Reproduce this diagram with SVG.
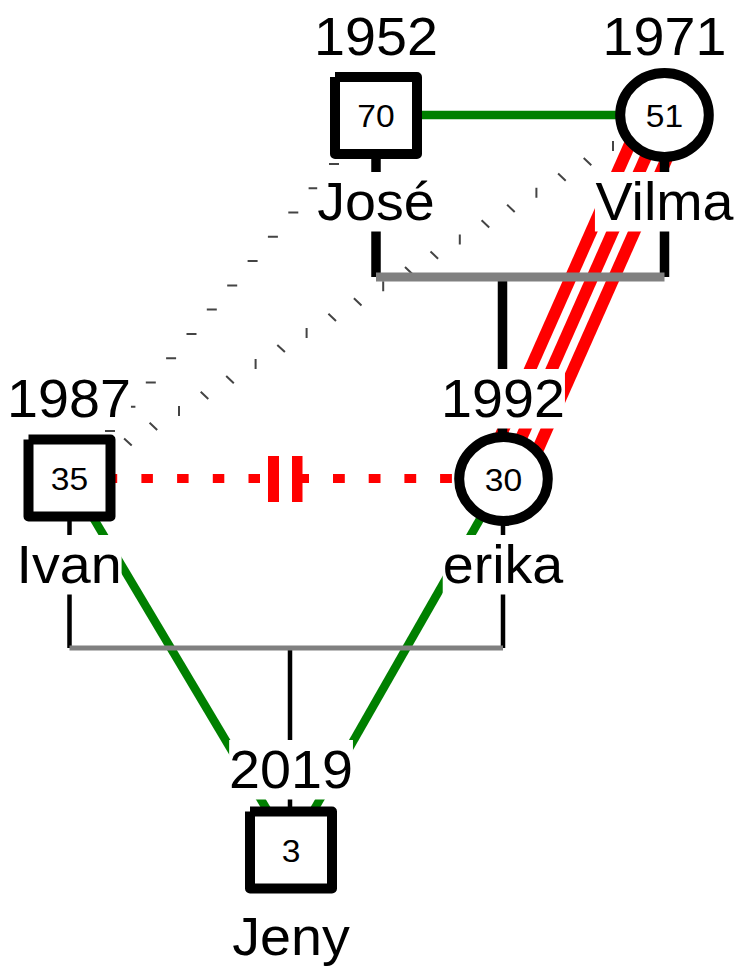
<svg xmlns="http://www.w3.org/2000/svg" width="738" height="967" viewBox="0 0 738 967">
<style>
.lbl{font-family:"Liberation Sans",Arial,sans-serif;font-size:53px;text-anchor:middle;fill:#000}
.num{font-family:"Liberation Sans",Arial,sans-serif;font-size:32px;text-anchor:middle;fill:#000}
.bg{fill:#fff}
.node{fill:#fff;stroke:#000;stroke-width:10;stroke-linejoin:round;stroke-linecap:butt}
.dots{fill:none;stroke:#444;stroke-width:2}
.red3{stroke:#f00;stroke-width:12}
.green{stroke:#008000;stroke-width:8.5}
.blk1{stroke:#000;stroke-width:9.5}
.blk2{stroke:#000;stroke-width:4.5}
.bar1{stroke:#808080;stroke-width:9}
.bar2{stroke:#808080;stroke-width:5}
.reddash{stroke:#f00;stroke-width:9;fill:none}
</style>
<rect width="738" height="967" fill="#fff"/>
<g id="connectors">
  <path class="dots" d="M329,164h10M308.6,188.3h10M288.3,212.5h10M267.9,236.8h10M247.6,261.1h10M227.2,285.4h10M206.8,309.6h10M186.5,333.9h10M166.1,358.2h10M145.8,382.4h10M125.4,406.7h10M105,431h10"/>
  <path class="dots" d="M613,141v10M536.4,187.7v10M459.8,234.5v10M383.2,281.2v10M306.6,328v10M255.6,359.1v10M179,405.9v10M583.7,158l7.6,7.2M558.1,173.6l7.6,7.2M507.1,204.7l7.6,7.2M481.6,220.3l7.6,7.2M430.5,251.5l7.6,7.2M405,267l7.6,7.2M353.9,298.2l7.6,7.2M328.4,313.8l7.6,7.2M277.3,344.9l7.6,7.2M226.2,376.1l7.6,7.2M200.7,391.7l7.6,7.2M149.6,422.8l7.6,7.2M124.1,438.4l7.6,7.2"/>
  <line class="red3" x1="646.4" y1="106.95" x2="485.4" y2="469.95"/>
  <line class="red3" x1="664.5" y1="115" x2="503.5" y2="478"/>
  <line class="red3" x1="682.6" y1="123.05" x2="521.6" y2="486.05"/>
  <line class="green" x1="376" y1="115" x2="664.5" y2="115"/>
  <line class="green" x1="69.5" y1="478" x2="291" y2="850"/>
  <line class="green" x1="503.5" y1="478" x2="291" y2="850"/>
  <line class="blk1" x1="376" y1="115" x2="376" y2="277"/>
  <line class="blk1" x1="664.5" y1="115" x2="664.5" y2="277"/>
  <line class="blk1" x1="502.5" y1="277" x2="502.5" y2="478"/>
  <line class="bar1" x1="376" y1="277" x2="664.5" y2="277"/>
  <line class="blk2" x1="69.5" y1="478" x2="69.5" y2="648"/>
  <line class="blk2" x1="503" y1="478" x2="503" y2="648"/>
  <line class="blk2" x1="290" y1="648" x2="290" y2="850"/>
  <line class="bar2" x1="69.5" y1="648" x2="503" y2="648"/>
  <line class="reddash" x1="70" y1="478.5" x2="268" y2="478.5" stroke-dasharray="11.5 24.2"/>
  <line class="reddash" x1="333" y1="478.5" x2="500" y2="478.5" stroke-dasharray="11.8 23.9"/>
  <rect x="268" y="456" width="11" height="46" fill="#f00"/>
  <rect x="292" y="456" width="10.5" height="46" fill="#f00"/>
  <rect x="302" y="474" width="7" height="9" fill="#f00"/>
</g>
<g id="node-jose">
  <path class="node" d="M335,77H417V154H335V77"/>
  <text class="num" transform="translate(376,126.5) scale(1.05 1)">70</text>
  <g transform="translate(376,55) scale(1.05 1)"><rect class="bg" x="-58.9" y="-48" width="117.9" height="59.5"/><text class="lbl">1952</text></g>
  <g transform="translate(376,220) scale(1.05 1)"><rect class="bg" x="-56" y="-48" width="111.9" height="59.5"/><text class="lbl">José</text></g>
</g>
<g id="node-vilma">
  <ellipse class="node" cx="664.5" cy="115" rx="44.3" ry="42"/>
  <text class="num" transform="translate(664.5,126.5) scale(1.05 1)">51</text>
  <g transform="translate(664.5,55) scale(1.05 1)"><rect class="bg" x="-58.9" y="-48" width="117.9" height="59.5"/><text class="lbl">1971</text></g>
  <g transform="translate(664.5,220) scale(1.05 1)"><rect class="bg" x="-66.25" y="-48" width="132.5" height="59.5"/><text class="lbl">Vilma</text></g>
</g>
<g id="node-ivan">
  <path class="node" d="M28.5,439.5H110.5V516.5H28.5V439.5"/>
  <text class="num" transform="translate(69.5,489.5) scale(1.05 1)">35</text>
  <g transform="translate(69,417) scale(1.05 1)"><rect class="bg" x="-58.9" y="-48" width="117.9" height="59.5"/><text class="lbl">1987</text></g>
  <g transform="translate(69,583) scale(1.05 1)"><rect class="bg" x="-50.1" y="-48" width="100.2" height="59.5"/><text class="lbl">Ivan</text></g>
</g>
<g id="node-erika">
  <ellipse class="node" cx="503.5" cy="479" rx="44.3" ry="42"/>
  <text class="num" transform="translate(503.5,490.5) scale(1.05 1)">30</text>
  <g transform="translate(503,417) scale(1.05 1)"><rect class="bg" x="-58.9" y="-48" width="117.9" height="59.5"/><text class="lbl">1992</text></g>
  <g transform="translate(503,583) scale(1.05 1)"><rect class="bg" x="-57.4" y="-48" width="114.9" height="59.5"/><text class="lbl">erika</text></g>
</g>
<g id="node-jeny">
  <path class="node" d="M250,811.5H332V888.5H250V811.5"/>
  <text class="num" transform="translate(291,861.5) scale(1.05 1)">3</text>
  <g transform="translate(291,788) scale(1.05 1)"><rect class="bg" x="-58.9" y="-48" width="117.9" height="59.5"/><text class="lbl">2019</text></g>
  <g transform="translate(291,955) scale(1.05 1)"><rect class="bg" x="-56" y="-48" width="111.9" height="59.5"/><text class="lbl">Jeny</text></g>
</g>
</svg>
